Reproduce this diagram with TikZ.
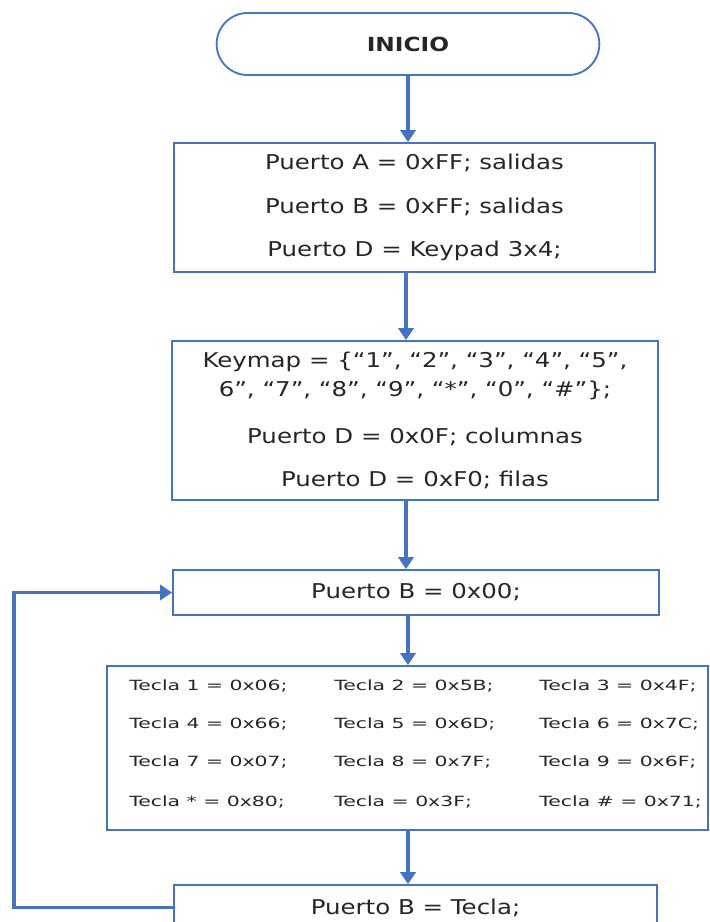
\documentclass[tikz,border=0pt]{standalone}
\usepackage{fontspec}
\setmainfont{DejaVu Sans}[FakeStretch=1.2]
\newfontfamily\tablefont{DejaVu Sans}[FakeStretch=1.45]
\usepackage{xcolor}
\usetikzlibrary{shapes.misc, arrows.meta, positioning}
\definecolor{flowblue}{HTML}{4472C4}
\definecolor{inkgray}{HTML}{262626}
\tikzset{
  terminal/.style={rounded rectangle, draw=flowblue, line width=1.3pt, minimum width=9.8cm, minimum height=1.55cm, text=inkgray, font=\fontsize{13.8}{16}\selectfont\bfseries}, % start node
  process/.style={rectangle, draw=flowblue, line width=1.3pt, fill=white, text=inkgray, align=center, font=\fontsize{14.5}{21}\selectfont},
  flow/.style={draw=flowblue, line width=2.6pt, -{Triangle[width=0.38cm,length=0.3cm]}}
}

\begin{document}
\begin{tikzpicture}[x=0.025cm, y=-0.025cm]
    \useasboundingbox (0,0) rectangle (710,922);
    \clip (0,0) rectangle (710,922);

    % Nodes
    \node [terminal] (inicio) at (408,44) {INICIO};
    \node [process, minimum width=12.025cm, minimum height=3.225cm] (config) at (414.5,207.5)
      {Puerto A = 0xFF; salidas\\[10pt] Puerto B = 0xFF; salidas\\[10pt] Puerto D = Keypad 3x4;};
    \node [process, minimum width=12.15cm, minimum height=3.975cm] (keypad) at (415,420.5)
      {Keymap = \{“1”, “2”, “3”, “4”, “5”,\\ 6”, “7”, “8”, “9”, “*”, “0”, “\#”\};\\[12pt]
       Puerto D = 0x0F; columnas\\[10pt] Puerto D = 0xF0; filas};
    \node [process, minimum width=12.15cm, minimum height=1.125cm] (clear) at (416,592.5) {Puerto B = 0x00;};
    \node [process, minimum width=15.025cm, minimum height=4.1cm, inner sep=1pt, font=\tablefont\fontsize{10}{12}\selectfont] (teclas) at (407.5,748)
      {\begin{tabular}{@{\hspace{0.4cm}}l@{}l@{}l@{}}
        \makebox[5.125cm][l]{Tecla 1 = 0x06;} & \makebox[5.125cm][l]{Tecla 2 = 0x5B;} & Tecla 3 = 0x4F;\\[15pt]
        Tecla 4 = 0x66; & Tecla 5 = 0x6D; & Tecla 6 = 0x7C;\\[15pt]
        Tecla 7 = 0x07; & Tecla 8 = 0x7F; & Tecla 9 = 0x6F;\\[16pt]
        Tecla * = 0x80; & Tecla = 0x3F; & Tecla \# = 0x71;\\[4pt]
       \end{tabular}};
    \node [process, minimum width=12.075cm, minimum height=1.125cm] (salida) at (415.5,907.5) {Puerto B = Tecla;};
    \coordinate (loopx) at (14,0);

    % Edges
    \draw [flow] (inicio.south) -- (inicio.south |- config.north);
    \draw [flow] (config.south -| 406,0) -- (keypad.north -| 406,0);
    \draw [flow] (keypad.south -| 406,0) -- (clear.north -| 406,0);
    \draw [flow] (clear.south -| 408,0) -- (teclas.north -| 408,0);
    \draw [flow] (teclas.south -| 408,0) -- (salida.north -| 408,0);
    \draw [flow] (salida.west) -- (salida.west -| loopx) |- (clear.west);

\end{tikzpicture}
\end{document}
